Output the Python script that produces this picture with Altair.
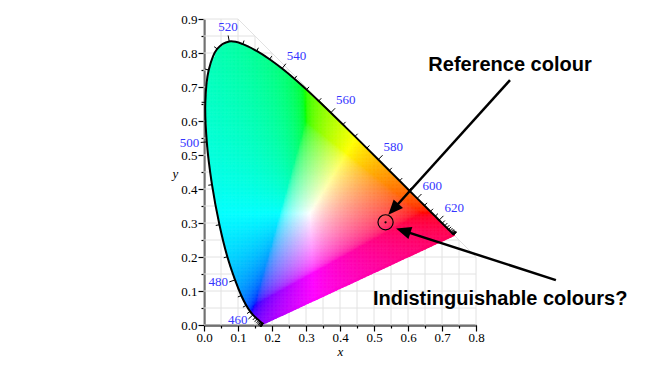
import numpy as np
import pandas as pd
import altair as alt

# ---------------- data ----------------
# CIE 1931 spectral locus (5 nm steps, 380-700 nm)
wavelengths = list(range(380, 705, 5))
locus_x = [0.1741, 0.1740, 0.1738, 0.1736, 0.1733, 0.1730, 0.1726, 0.1721, 0.1714, 0.1703,
           0.1689, 0.1669, 0.1644, 0.1611, 0.1566, 0.1510, 0.1440, 0.1355, 0.1241, 0.1096,
           0.0913, 0.0687, 0.0454, 0.0235, 0.0082, 0.0039, 0.0139, 0.0389, 0.0743, 0.1142,
           0.1547, 0.1929, 0.2296, 0.2658, 0.3016, 0.3373, 0.3731, 0.4087, 0.4441, 0.4788,
           0.5125, 0.5448, 0.5752, 0.6029, 0.6270, 0.6482, 0.6658, 0.6801, 0.6915, 0.7006,
           0.7079, 0.7140, 0.7190, 0.7230, 0.7260, 0.7283, 0.7300, 0.7311, 0.7320, 0.7327,
           0.7334, 0.7340, 0.7344, 0.7346, 0.7347]
locus_y = [0.0050, 0.0050, 0.0049, 0.0049, 0.0048, 0.0048, 0.0048, 0.0048, 0.0051, 0.0058,
           0.0069, 0.0086, 0.0109, 0.0138, 0.0177, 0.0227, 0.0297, 0.0399, 0.0578, 0.0868,
           0.1327, 0.2007, 0.2950, 0.4127, 0.5384, 0.6548, 0.7502, 0.8120, 0.8338, 0.8262,
           0.8059, 0.7816, 0.7543, 0.7243, 0.6923, 0.6589, 0.6245, 0.5896, 0.5547, 0.5202,
           0.4866, 0.4544, 0.4242, 0.3965, 0.3725, 0.3514, 0.3340, 0.3197, 0.3083, 0.2993,
           0.2920, 0.2859, 0.2809, 0.2770, 0.2740, 0.2717, 0.2700, 0.2689, 0.2680, 0.2673,
           0.2666, 0.2660, 0.2656, 0.2654, 0.2653]
label_wavelengths = [460, 480, 500, 520, 540, 560, 580, 600, 620]

x_ticks = [round(0.05 * i, 2) for i in range(17)]   # 0.0 .. 0.8
y_ticks = [round(0.05 * i, 2) for i in range(19)]   # 0.0 .. 0.9

# annotations
ann_text = ["Reference colour", "Indistinguishable colours?"]
ann_x = [0.900, 0.871]
ann_y = [0.747, 0.059]
ref_x = [0.534]
ref_y = [0.302]
arrow_start_x = [0.900, 1.035]
arrow_start_y = [0.720, 0.132]
arrow_tip_x = [0.542, 0.565]
arrow_tip_y = [0.324, 0.284]

# ---------------- derived tables ----------------
lx = np.array(locus_x)
ly = np.array(locus_y)
n = len(lx)


def xy_to_hex(px, py):
    Xc = px / py
    Zc = (1 - px - py) / py
    R = 3.2406 * Xc - 1.5372 - 0.4986 * Zc
    G = -0.9689 * Xc + 1.8758 + 0.0415 * Zc
    B = 0.0557 * Xc - 0.2040 + 1.0570 * Zc
    rgb = np.stack([R, G, B], axis=1)
    mn = np.minimum(rgb.min(axis=1, keepdims=True), 0)
    rgb = rgb - mn
    rgb = rgb / rgb.max(axis=1, keepdims=True)
    rgb = np.where(rgb <= 0.0031308, 12.92 * rgb, 1.055 * np.power(rgb, 1 / 2.4) - 0.055)
    rgb = np.clip(np.round(rgb * 255), 0, 255).astype(int)
    return ["#%02x%02x%02x" % tuple(c) for c in rgb]


# outward normals along the locus
normals = []
for i in range(n):
    k = 1
    while True:
        a, b = max(i - k, 0), min(i + k, n - 1)
        tx, ty = lx[b] - lx[a], ly[b] - ly[a]
        if np.hypot(tx, ty) > 0.01 or k > 20:
            break
        k += 1
    L = np.hypot(tx, ty)
    tx, ty = tx / L, ty / L
    normals.append((-ty, tx))
normals = np.array(normals)

locus_df = pd.DataFrame({"wl": wavelengths, "x": lx, "y": ly})

tick_rows = []
label_rows = []
for i, w in enumerate(wavelengths):
    nx, ny = normals[i]
    ln = 0.018 if w in label_wavelengths else 0.011
    tick_rows.append({"x": lx[i], "y": ly[i], "x2": lx[i] + ln * nx, "y2": ly[i] + ln * ny})
    if w in label_wavelengths:
        off = 0.022
        al = "right" if nx < -0.35 else ("left" if nx > 0.35 else "center")
        bl = "bottom" if ny > 0.6 else ("top" if ny < -0.7 else "middle")
        label_rows.append({"x": lx[i] + off * nx, "y": ly[i] + off * ny,
                           "t": str(w), "al": al, "bl": bl})
tick_df = pd.DataFrame(tick_rows)
label_df = pd.DataFrame(label_rows)

# colour fill of the gamut
step = 0.004
gx = np.arange(0, 0.76, step) + step / 2
gy = np.arange(0, 0.85, step) + step / 2
XX, YY = np.meshgrid(gx, gy)
px, py = XX.ravel(), YY.ravel()
inside = np.zeros(px.shape, dtype=bool)
j = n - 1
with np.errstate(divide="ignore", invalid="ignore"):
    for i in range(n):
        xi, yi, xj, yj = lx[i], ly[i], lx[j], ly[j]
        if yi != yj:
            cond = ((yi > py) != (yj > py)) & (px < (xj - xi) * (py - yi) / (yj - yi) + xi)
            inside ^= cond
        j = i
px, py = px[inside], py[inside]
fill_df = pd.DataFrame({"x": np.round(px - step / 2, 4), "y": np.round(py - step / 2, 4),
                        "c": xy_to_hex(px, py)})

# smooth edge along the line of purples (from the 380 nm end to the 700 nm end)
nseg = 60
t = np.linspace(0, 1, nseg + 1)
ex = lx[0] + (lx[-1] - lx[0]) * t
ey = ly[0] + (ly[-1] - ly[0]) * t
dxp, dyp = lx[-1] - lx[0], ly[-1] - ly[0]
Lp = np.hypot(dxp, dyp)
inx, iny = -dyp / Lp, dxp / Lp          # inward normal (towards the gamut)
mx = (ex[:-1] + ex[1:]) / 2 + 0.004 * inx
my = (ey[:-1] + ey[1:]) / 2 + 0.004 * iny
edge_df = pd.DataFrame({"x": ex[:-1], "y": ey[:-1], "x2": ex[1:], "y2": ey[1:],
                        "c": xy_to_hex(mx, my)})

# grid limited to x + y <= 1
grid_rows = []
for g in x_ticks:
    grid_rows.append({"x": g, "x2": g, "y": 0.0, "y2": min(0.9, 1 - g)})
for g in y_ticks:
    grid_rows.append({"x": 0.0, "x2": min(0.8, 1 - g), "y": g, "y2": g})
grid_rows.append({"x": 1 - 0.9, "x2": 0.8, "y": 0.9, "y2": 1 - 0.8})
grid_df = pd.DataFrame(grid_rows)

ann_df = pd.DataFrame({"x": ann_x, "y": ann_y, "t": ann_text})
ref_df = pd.DataFrame({"x": ref_x, "y": ref_y})
arrows = []
for sx, sy, tx, ty in zip(arrow_start_x, arrow_start_y, arrow_tip_x, arrow_tip_y):
    dx, dy = tx - sx, ty - sy
    L = np.hypot(dx, dy)
    ang = (np.degrees(np.arctan2(dx, dy)) + 360) % 360
    arrows.append({"x": sx, "y": sy, "x2": tx - 0.03 * dx / L, "y2": ty - 0.03 * dy / L,
                   "tx": tx, "ty": ty, "ang": ang})
arrow_df = pd.DataFrame(arrows)

# ---------------- chart ----------------
MAJOR = "abs(datum.value * 10 - round(datum.value * 10)) < 0.001"
SERIF = "'Liberation Serif', 'Times New Roman', 'DejaVu Serif', serif"
xs = alt.Scale(domain=[0, 0.8], nice=False, zero=False)
ys = alt.Scale(domain=[0, 0.9], nice=False, zero=False)
xaxis = alt.Axis(values=x_ticks, labelExpr=f"{MAJOR} ? format(datum.value, '.1f') : ''",
                 tickSize={"condition": {"test": MAJOR, "value": 6}, "value": 3},
                 grid=False, domainColor="black", domainWidth=1.8, tickColor="black",
                 tickWidth=1.2, labelFont=SERIF, labelFontSize=13, labelColor="black",
                 labelFlush=False, labelOverlap=False, labelPadding=0,
                 title="x", titleFont=SERIF, titleFontStyle="italic", titleFontWeight="normal",
                 titleFontSize=13, titleColor="black", titlePadding=1)
yaxis = alt.Axis(values=y_ticks, labelExpr=f"{MAJOR} ? format(datum.value, '.1f') : ''",
                 tickSize={"condition": {"test": MAJOR, "value": 6}, "value": 3},
                 grid=False, domainColor="black", domainWidth=1.8, tickColor="black",
                 tickWidth=1.2, labelFont=SERIF, labelFontSize=13, labelColor="black",
                 labelFlush=False, labelOverlap=False, labelPadding=1,
                 title="y", titleFont=SERIF, titleFontStyle="italic", titleFontWeight="normal",
                 titleFontSize=13, titleColor="black", titleAngle=0, titleX=-29, titleY=154,
                 titleAlign="center", titleBaseline="middle")


def X(f):
    return alt.X(f, type="quantitative", scale=xs, axis=xaxis)


def Y(f):
    return alt.Y(f, type="quantitative", scale=ys, axis=yaxis)


grid = alt.Chart(grid_df).mark_rule(color="#e2e2e2", strokeWidth=1).encode(
    x=X("x"), y=Y("y"), x2="x2", y2="y2")

fill = alt.Chart(fill_df).transform_calculate(
    x2=f"datum.x + {step}", y2=f"datum.y + {step}"
).mark_rect(strokeWidth=0.5).encode(
    x=X("x"), y=Y("y"), x2="x2:Q", y2="y2:Q",
    color=alt.Color("c:N", scale=None), stroke=alt.Stroke("c:N", scale=None))

edge = alt.Chart(edge_df).mark_rule(strokeWidth=2.6, strokeCap="round").encode(
    x=X("x"), y=Y("y"), x2="x2", y2="y2", color=alt.Color("c:N", scale=None))

locus = alt.Chart(locus_df).mark_line(color="black", strokeWidth=2,
                                      interpolate="catmull-rom").encode(
    x=X("x"), y=Y("y"), order="wl:Q")

ticks = alt.Chart(tick_df).mark_rule(color="black", strokeWidth=1).encode(
    x=X("x"), y=Y("y"), x2="x2", y2="y2")

label_layers = []
for (al, bl), _ in label_df.groupby(["al", "bl"]):
    label_layers.append(
        alt.Chart(label_df).transform_filter(
            f"datum.al == '{al}' && datum.bl == '{bl}'"
        ).mark_text(align=al, baseline=bl, font=SERIF, fontSize=13, color="#3434ff").encode(
            x=X("x"), y=Y("y"), text="t:N"))

ring = alt.Chart(ref_df).mark_point(shape="circle", size=230, filled=False,
                                    color="black", strokeWidth=1.2, opacity=1).encode(
    x=X("x"), y=Y("y"))
dot = alt.Chart(ref_df).mark_point(shape="circle", size=5, filled=True,
                                   color="black", opacity=1).encode(x=X("x"), y=Y("y"))

arrow_lines = alt.Chart(arrow_df).mark_rule(color="black", strokeWidth=2.5).encode(
    x=X("x"), y=Y("y"), x2="x2", y2="y2")
arrow_heads = alt.Chart(arrow_df).mark_point(
    shape="M0,0 L0.42,1 L-0.42,1 Z", size=900, filled=True, color="black",
    opacity=1, strokeWidth=0).encode(
    x=X("tx"), y=Y("ty"), angle=alt.Angle("ang:Q", scale=None))

ann = alt.Chart(ann_df).mark_text(font="'Liberation Sans', Arial, sans-serif",
                                  fontWeight="bold", fontSize=20,
                                  color="black", align="center", baseline="alphabetic").encode(
    x=X("x"), y=Y("y"), text="t:N")

chart = alt.layer(grid, fill, edge, locus, ticks, *label_layers, ring, dot,
                  arrow_lines, arrow_heads, ann).properties(
    width=272, height=306,
    autosize=alt.AutoSizeParams(type="none"),
    padding={"left": 196, "top": 11, "right": 166, "bottom": 33},
    background="white",
).configure_view(strokeWidth=0)

chart.save("out.html", embed_options={"renderer": "svg", "actions": False})
